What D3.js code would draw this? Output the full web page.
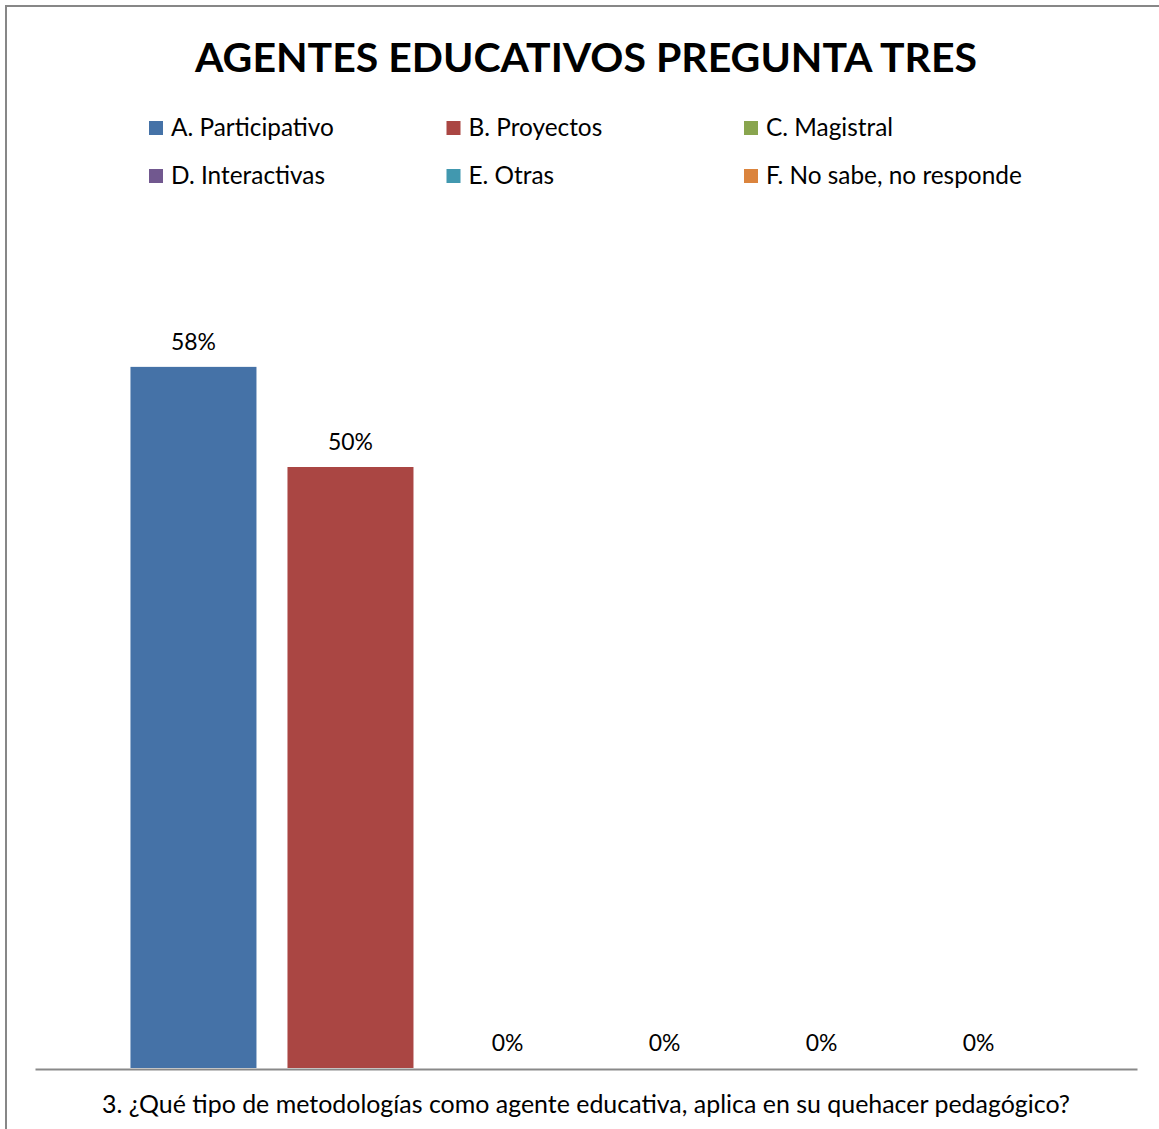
<!DOCTYPE html>
<html><head><meta charset="utf-8">
<script src="https://cdn.jsdelivr.net/npm/d3@7"></script>
<style>html,body{margin:0;padding:0;background:#fff;}svg{display:block;}</style>
</head><body>
<svg id="c" width="1159" height="1129"></svg>
<script>
const title = "AGENTES EDUCATIVOS PREGUNTA TRES";
const categoryLabel = "3. ¿Qué tipo de metodologías como agente educativa, aplica en su quehacer pedagógico?";
const seriesNames = ["A. Participativo","B. Proyectos","C. Magistral","D. Interactivas","E. Otras","F. No sabe, no responde"];
const seriesValues = [0.5833, 0.5, 0, 0, 0, 0];
const seriesColors = ["#4572A7","#AA4643","#89A54E","#71588F","#4198AF","#DB843D"];

const FONT = "Lato, 'Open Sans', sans-serif";
const svg = d3.select("#c");

// fit text to target width
function fit(sel, target){
  sel.each(function(){
    const w = this.getComputedTextLength();
    const fs = parseFloat(this.getAttribute("font-size"));
    this.setAttribute("font-size", (fs*target/w).toFixed(2));
  });
}

// border
svg.append("rect").attr("x",6).attr("y",6).attr("width",1200).attr("height",1200)
  .attr("fill","none").attr("stroke","#878787").attr("stroke-width",2);

// title
const t = svg.append("text").attr("x",586).attr("y",72).attr("text-anchor","middle")
  .attr("font-family",FONT).attr("font-weight","bold").attr("font-size",40).attr("fill","#000").text(title);
fit(t, 782);

// legend
const legX = d3.scalePoint().domain([0,1,2]).range([149,744]);
const legY = d3.scalePoint().domain([0,1]).range([128,176]);
const lg = svg.append("g");
const items = lg.selectAll("g").data(seriesNames).join("g")
  .attr("transform",(d,i)=>`translate(${legX(i%3)},${legY(Math.floor(i/3))})`);
items.append("rect").attr("x",0).attr("y",-7).attr("width",14).attr("height",14)
  .attr("fill",(d,i)=>seriesColors[i]);
const lt = items.append("text").attr("x",22).attr("y",8).attr("font-family",FONT)
  .attr("font-size",22).attr("fill","#000").text(d=>d);
// scale using the first item
{
  const n = lt.nodes()[0];
  const k = 163 / n.getComputedTextLength();
  lt.attr("font-size", (22*k).toFixed(2));
}

// plot
const x0 = 35, x1 = 1137, yBase = 1068;
const x = d3.scaleBand().domain(seriesNames).range([x0,x1]).paddingInner(0.1975).paddingOuter(0.608);
const y = d3.scaleLinear().domain([0,0.7]).range([yBase, yBase - 0.7*1202]);

svg.append("g").selectAll("rect").data(seriesValues).join("rect")
  .attr("x",(d,i)=>x(seriesNames[i])).attr("width",x.bandwidth())
  .attr("y",d=>y(d)).attr("height",d=>yBase-y(d)).attr("fill",(d,i)=>seriesColors[i]);

const dl = svg.append("g").selectAll("text").data(seriesValues).join("text")
  .attr("x",(d,i)=>x(seriesNames[i])+x.bandwidth()/2).attr("y",d=>y(d)-17)
  .attr("text-anchor","middle").attr("font-family",FONT).attr("font-size",20).attr("fill","#000")
  .text(d=>Math.round(d*100)+"%");
{
  const n = dl.nodes()[0];
  const k = 45 / n.getComputedTextLength();
  dl.attr("font-size",(20*k).toFixed(2));
}

// axis baseline
const ax = svg.append("g").attr("transform",`translate(0,${yBase+1})`)
  .call(d3.axisBottom(d3.scaleLinear().range([x0,x1])).ticks(0).tickSize(0).tickFormat(""));
ax.select(".domain").attr("stroke","#898989").attr("stroke-width",2);

const cl = svg.append("text").attr("x",586).attr("y",1113).attr("text-anchor","middle")
  .attr("font-family",FONT).attr("font-size",22).attr("fill","#000").text(categoryLabel);
fit(cl, 968);
</script>
</body></html>
